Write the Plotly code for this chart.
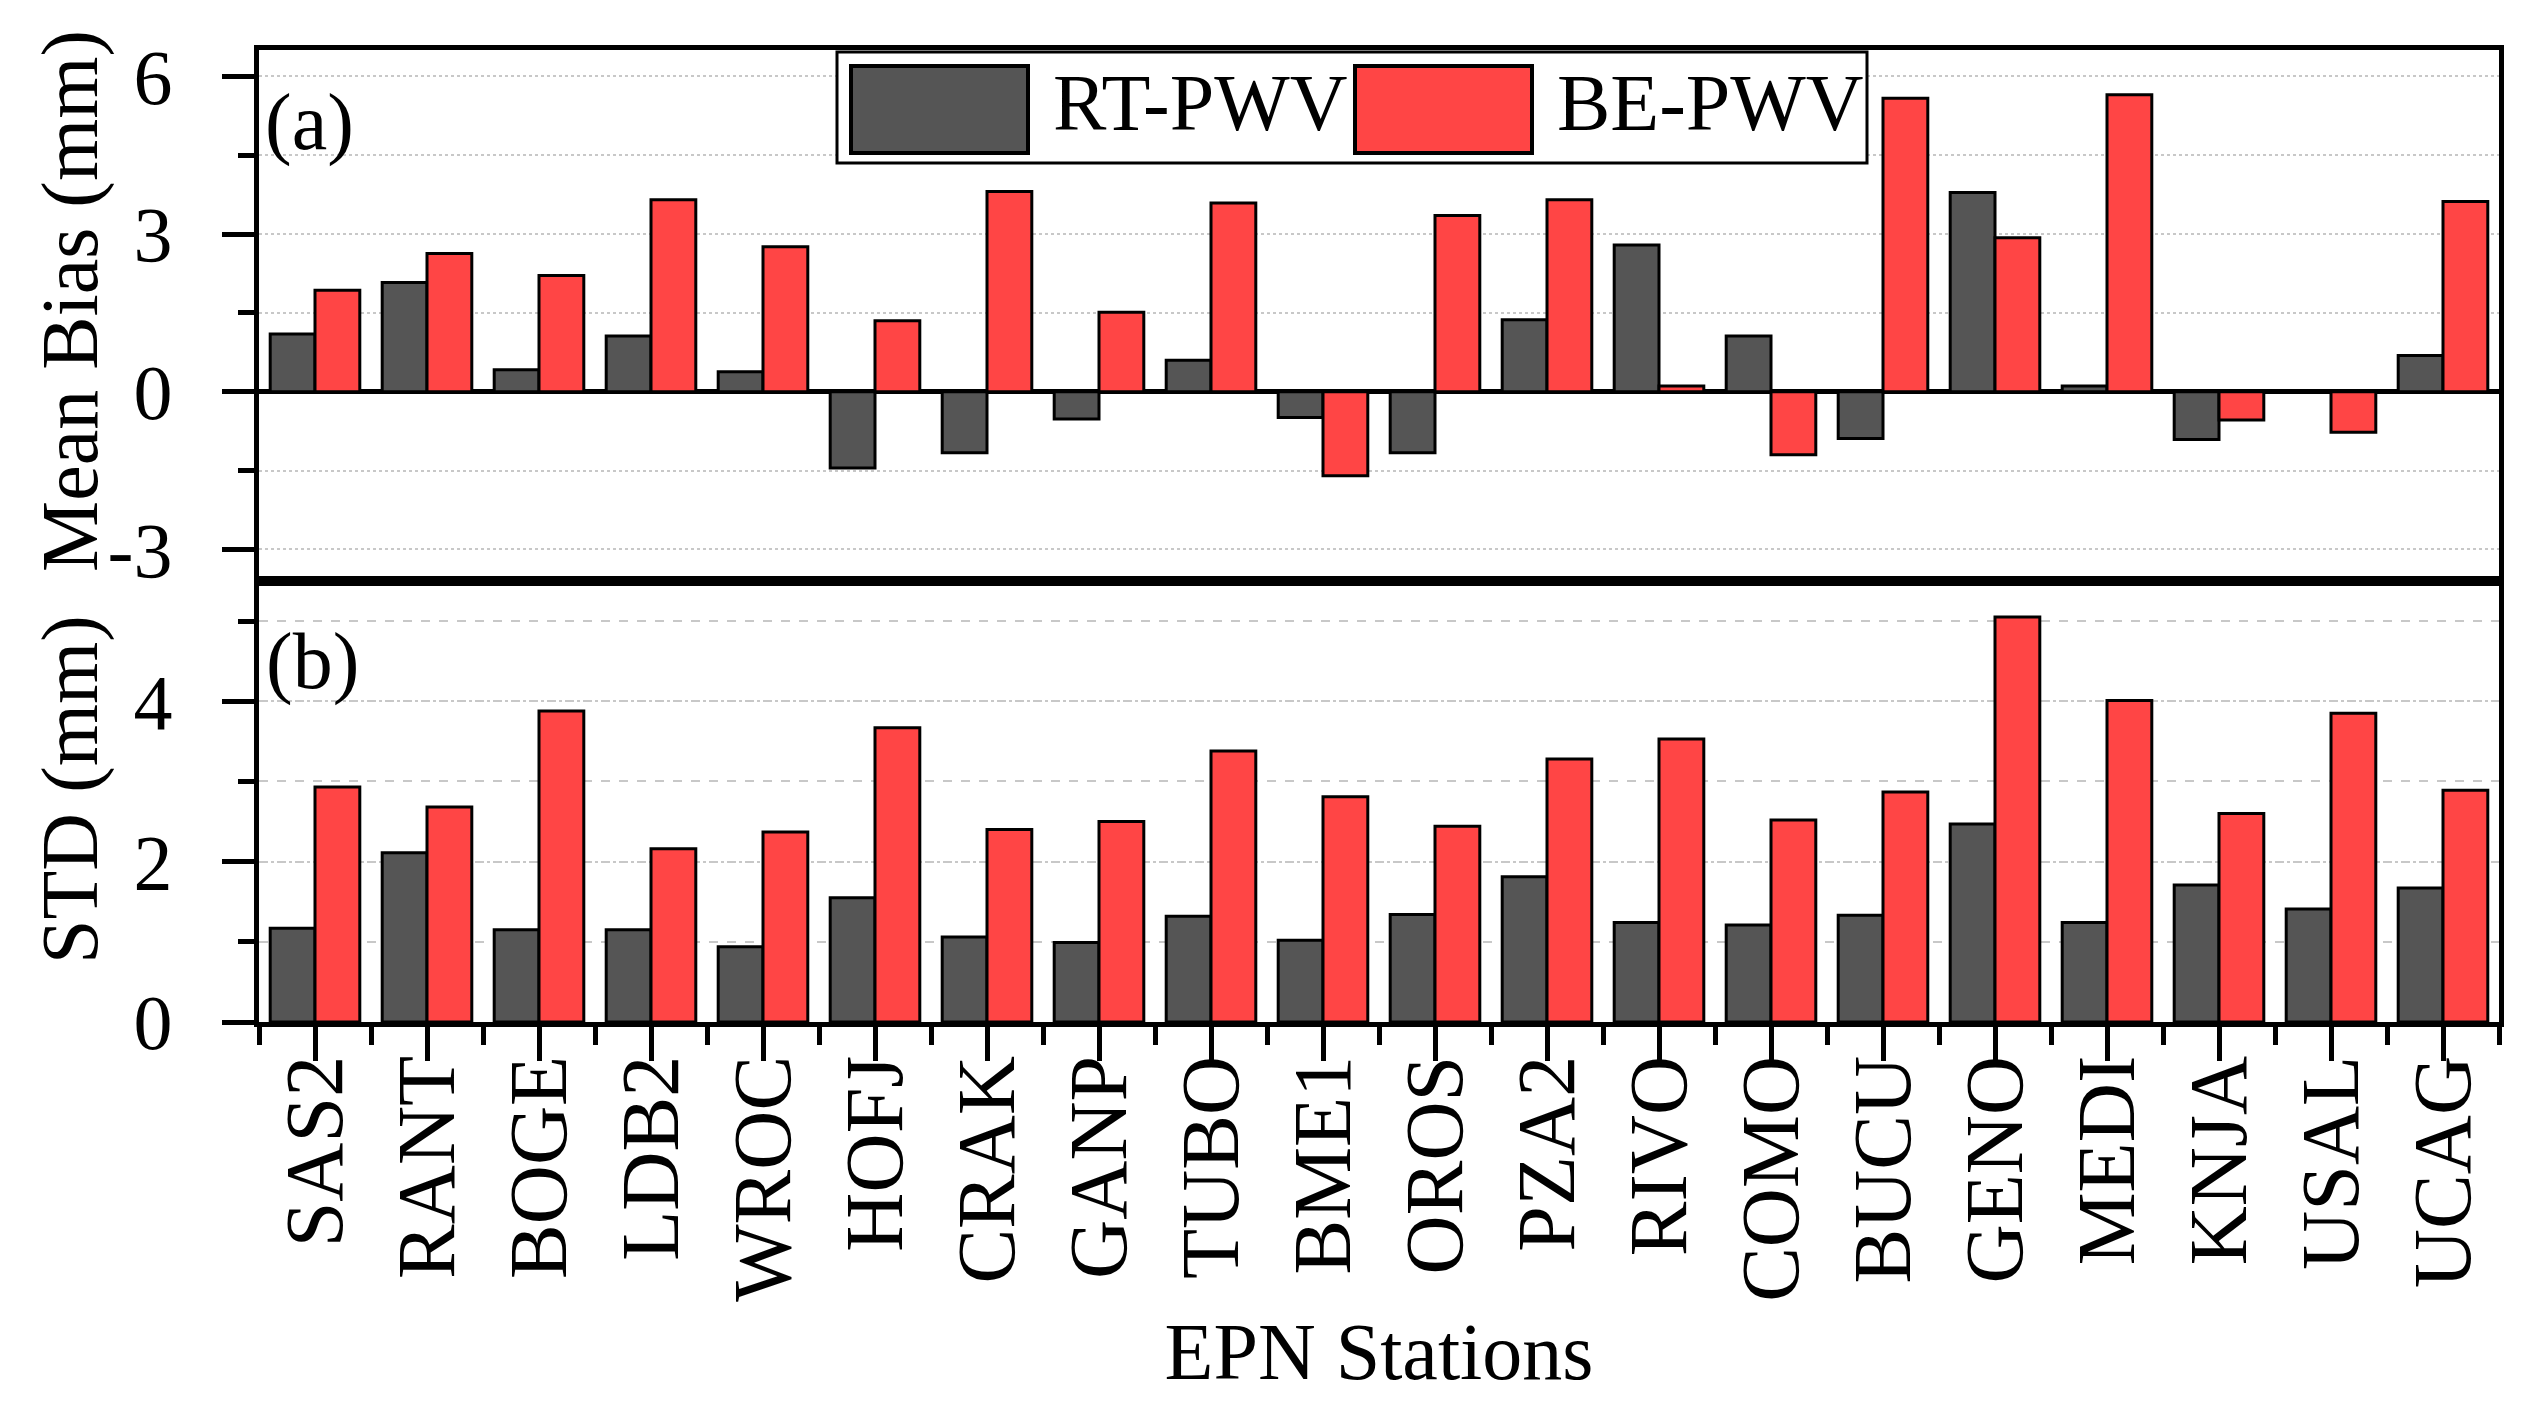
import plotly.graph_objects as go
from plotly.subplots import make_subplots

# ---------------- data ----------------
stations = ["SAS2", "RANT", "BOGE", "LDB2", "WROC", "HOFJ", "CRAK", "GANP", "TUBO", "BME1",
            "OROS", "PZA2", "RIVO", "COMO", "BUCU", "GENO", "MEDI", "KNJA", "USAL", "UCAG"]
series_names = ["RT-PWV", "BE-PWV"]

rt_bias = [1.10, 2.08, 0.42, 1.06, 0.38, -1.45, -1.16, -0.52, 0.60, -0.49,
           -1.16, 1.37, 2.79, 1.06, -0.89, 3.79, 0.11, -0.91, 0.0, 0.69]
be_bias = [1.93, 2.63, 2.21, 3.65, 2.76, 1.35, 3.81, 1.51, 3.59, -1.60,
           3.35, 3.65, 0.11, -1.20, 5.58, 2.93, 5.65, -0.54, -0.77, 3.62]
rt_std = [1.17, 2.11, 1.15, 1.15, 0.94, 1.55, 1.06, 0.99, 1.32, 1.02,
          1.34, 1.81, 1.24, 1.21, 1.33, 2.47, 1.24, 1.71, 1.41, 1.67]
be_std = [2.93, 2.68, 3.88, 2.16, 2.37, 3.67, 2.40, 2.50, 3.38, 2.81,
          2.44, 3.28, 3.53, 2.52, 2.87, 5.05, 4.01, 2.60, 3.85, 2.89]

bias_ticks = [-3, 0, 3, 6]
std_ticks = [0, 2, 4]
panel_labels = ["(a)", "(b)"]
y_titles = ["Mean Bias (mm)", "STD (mm)"]
x_title = "EPN Stations"

# ---------------- styling ----------------
W, H = 2521, 1405
ML, MR, MT, MB = 251, 30, 42, 391
PW = W - ML - MR
PH = H - MT - MB
SPLIT = (1014 - 573) / PH

FONT = "Liberation Serif"
GRAY = "#555555"
RED = "#FF4545"
GRID = "#c8c8c8"
TICK_FS = 78
XTICK_FS = 82
TITLE_FS = 80

x = list(range(len(stations)))

fig = make_subplots(rows=2, cols=1, shared_xaxes=True, vertical_spacing=0)

for row, (a, b) in enumerate([(rt_bias, be_bias), (rt_std, be_std)], start=1):
    for vals, name, color in [(a, series_names[0], GRAY), (b, series_names[1], RED)]:
        fig.add_trace(go.Bar(x=x, y=vals, name=name, showlegend=False,
                             marker=dict(color=color, line=dict(color="black", width=3))),
                      row=row, col=1)

axis_common = dict(showline=True, linecolor="black", linewidth=5, mirror=True,
                   automargin=False)

fig.update_layout(
    width=W, height=H,
    margin=dict(l=ML, r=MR, t=MT, b=MB),
    paper_bgcolor="white", plot_bgcolor="white",
    barmode="group", bargap=0.2, bargroupgap=0,
    font=dict(family=FONT, size=TICK_FS, color="black"),
    xaxis=dict(range=[-0.5, 19.5], ticks="", showticklabels=False, showgrid=False,
               zeroline=False, **axis_common),
    xaxis2=dict(range=[-0.5, 19.5], tickmode="array", tickvals=x, ticktext=stations,
                tickangle=-90, ticks="outside", ticklen=34, tickwidth=5, tickcolor="black",
                ticklabelstandoff=-38, showgrid=False, zeroline=False,
                minor=dict(tickmode="linear", tick0=0.5, dtick=1, ticks="outside",
                           ticklen=18, tickwidth=5, tickcolor="black", showgrid=False),
                title=dict(text=x_title, font=dict(size=TITLE_FS), standoff=24),
                tickfont=dict(size=XTICK_FS), **axis_common),
    yaxis=dict(domain=[SPLIT, 1], range=[-3.6, 6.5], tickmode="array",
               tickvals=bias_ticks, ticktext=[str(v) for v in bias_ticks],
               ticks="outside", ticklen=32, tickwidth=5, tickcolor="black",
               ticklabelstandoff=34,
               showgrid=True, gridcolor=GRID, gridwidth=2, griddash="dot",
               zeroline=True, zerolinecolor="black", zerolinewidth=5,
               minor=dict(tickmode="linear", tick0=0, dtick=1.5, ticks="outside",
                          ticklen=16, tickwidth=5, tickcolor="black",
                          showgrid=True, gridcolor=GRID, gridwidth=2, griddash="dot"),
               tickfont=dict(size=TICK_FS), **axis_common),
    yaxis2=dict(domain=[0, SPLIT], range=[0, 5.5], tickmode="array",
                tickvals=std_ticks, ticktext=[str(v) for v in std_ticks],
                ticks="outside", ticklen=32, tickwidth=5, tickcolor="black",
                ticklabelstandoff=34,
                showgrid=True, gridcolor=GRID, gridwidth=2, griddash="dot",
                zeroline=False,
                minor=dict(tickmode="linear", tick0=0, dtick=1, ticks="outside",
                           ticklen=16, tickwidth=5, tickcolor="black",
                           showgrid=True, gridcolor=GRID, gridwidth=2, griddash="dash"),
                tickfont=dict(size=TICK_FS), **axis_common),
)


def px_x(p):
    return (p - ML) / PW


def px_y(p):
    return (H - MB - p) / PH


# y-axis titles (placed precisely, rotated)
fig.add_annotation(text=y_titles[0], xref="paper", yref="paper", x=px_x(62), y=px_y(293),
                   textangle=-90, showarrow=False, font=dict(size=TITLE_FS),
                   xanchor="center", yanchor="middle")
fig.add_annotation(text=y_titles[1], xref="paper", yref="paper", x=px_x(62), y=px_y(782),
                   textangle=-90, showarrow=False, font=dict(size=TITLE_FS),
                   xanchor="center", yanchor="middle")

# panel labels
fig.add_annotation(text=panel_labels[0], xref="paper", yref="paper", x=px_x(301), y=px_y(115),
                   showarrow=False, font=dict(size=TITLE_FS), xanchor="center", yanchor="middle")
fig.add_annotation(text=panel_labels[1], xref="paper", yref="paper", x=px_x(304), y=px_y(653),
                   showarrow=False, font=dict(size=TITLE_FS), xanchor="center", yanchor="middle")

# legend (drawn with shapes, large swatches as in the reference)
fig.add_shape(type="rect", xref="paper", yref="paper",
              x0=px_x(829), x1=px_x(1859), y0=px_y(155), y1=px_y(44),
              line=dict(color="black", width=3), fillcolor="white", layer="above")
for (x0, x1, tx), name, color in zip([(843, 1020, 1043), (1347, 1524, 1547)], series_names, [GRAY, RED]):
    fig.add_shape(type="rect", xref="paper", yref="paper",
                  x0=px_x(x0), x1=px_x(x1), y0=px_y(145), y1=px_y(58),
                  line=dict(color="black", width=4), fillcolor=color, layer="above")
    fig.add_annotation(text=name, xref="paper", yref="paper", x=px_x(tx), y=px_y(95),
                       showarrow=False, font=dict(size=TITLE_FS), xanchor="left", yanchor="middle")

fig.write_html("out.html")
